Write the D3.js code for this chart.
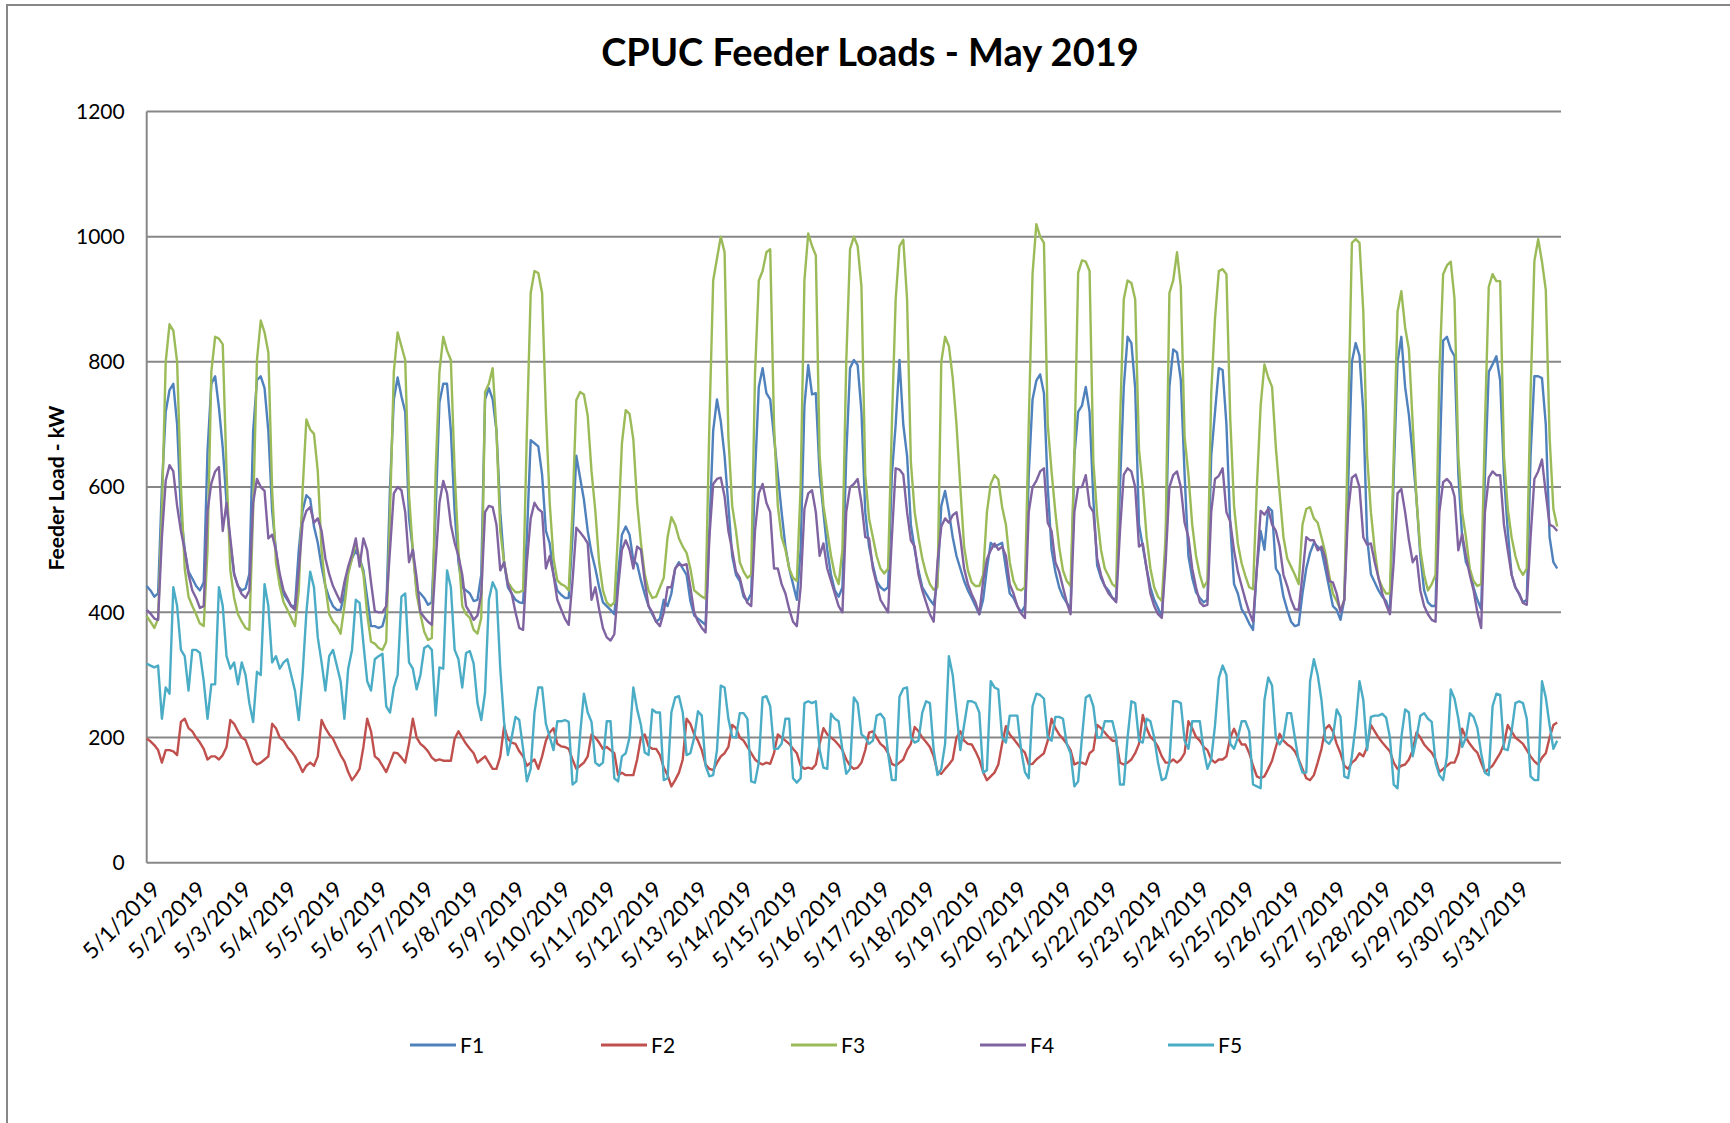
<!DOCTYPE html>
<html><head><meta charset="utf-8">
<script src="https://cdn.jsdelivr.net/npm/d3@7"></script>
<style>html,body{margin:0;padding:0;background:#fff;}svg{display:block;font-family:Lato,"Open Sans",sans-serif;}</style>
</head><body>
<svg id="chart" width="1730" height="1123"></svg>
<script>
// ---- data (2-hour samples, 12 per day, May 1..31 2019) ----
const days = d3.range(1, 32).map(d => `5/${d}/2019`);
const yTicks = [0, 200, 400, 600, 800, 1000, 1200];
const seriesNames = ["F1", "F2", "F3", "F4", "F5"];
const seriesColors = ["#4F81BD", "#C0504D", "#9BBB59", "#8064A2", "#4BACC6"];
const stepHours = 2;

const f1 = [
442,435,425,430,600,720,755,765,700,560,500,465,
454,442,435,448,657,765,777,727,663,575,511,461,
442,435,438,461,689,771,777,758,689,562,499,448,
429,420,410,410,499,562,587,581,537,511,473,442,
423,410,404,404,429,467,486,499,486,467,423,378,
378,375,378,400,600,740,775,745,720,550,500,435,
430,423,412,416,560,735,765,765,690,560,480,440,
435,430,418,420,460,740,758,740,690,560,480,440,
430,420,416,415,520,675,670,665,620,530,510,460,
435,428,423,423,520,650,615,580,530,495,470,440,
416,410,404,397,461,524,537,524,483,477,451,429,
410,397,385,390,420,410,430,470,480,470,460,418,
395,390,385,380,530,690,740,705,650,570,490,460,
450,425,418,430,620,760,790,750,740,680,620,560,
505,470,445,420,500,730,795,748,750,620,560,500,
460,435,425,440,650,790,803,795,720,560,505,475,
450,440,435,440,620,700,803,700,650,540,500,467,
440,430,420,412,450,570,594,560,520,490,470,450,
435,423,410,397,420,470,511,505,508,511,470,430,
423,410,400,410,620,740,770,780,750,600,500,465,
440,425,415,405,650,720,730,760,720,580,475,455,
442,435,423,420,600,760,840,830,758,540,505,470,
440,420,407,393,500,760,820,815,771,620,490,455,
432,423,416,420,650,720,790,787,700,540,445,430,
405,395,382,372,470,530,500,568,562,470,460,425,
404,385,378,380,430,470,495,511,505,499,470,440,
410,404,388,420,600,800,830,810,720,520,461,448,
435,425,418,400,620,800,840,760,715,650,580,490,
435,416,410,410,620,834,840,820,809,620,520,480,
467,440,420,405,620,784,796,809,770,620,530,460,
440,429,416,420,650,777,777,774,700,520,480,470];

const f2 = [
198,194,188,180,160,180,180,178,172,225,230,215,
210,200,192,182,165,170,170,165,172,185,228,222,
210,200,196,180,162,157,160,165,170,222,215,200,
195,185,178,170,158,145,155,160,155,170,228,215,
205,198,185,172,162,145,132,140,150,185,230,210,
170,165,155,145,160,176,175,168,160,190,230,200,
190,185,178,168,163,165,163,163,163,198,210,200,
190,182,175,160,165,170,160,150,150,170,218,198,
192,190,178,170,155,160,165,150,170,195,208,215,
190,186,185,182,165,150,155,160,170,205,200,192,
182,185,180,175,140,144,140,140,140,165,200,205,
186,182,182,172,152,140,122,132,144,165,230,222,
205,195,180,157,150,148,160,170,175,185,220,215,
200,195,185,175,165,160,157,160,158,175,205,200,
195,190,182,175,155,150,152,150,157,190,215,205,
200,195,188,180,165,155,150,152,160,180,208,210,
200,190,185,175,158,155,160,165,180,190,217,210,
200,193,185,170,145,142,150,157,165,200,210,195,
190,189,178,165,145,132,138,144,157,190,218,205,
198,190,182,176,157,158,165,170,175,195,230,215,
205,198,190,180,157,160,160,157,175,180,220,215,
208,201,195,195,160,157,160,165,175,190,236,215,
201,195,185,170,160,160,165,160,165,175,226,215,
201,195,185,180,165,160,165,165,170,200,214,200,
189,189,175,155,138,135,138,150,163,185,206,195,
189,185,178,165,150,135,132,140,160,182,214,220,
210,190,175,155,150,160,165,175,170,185,220,210,
200,192,185,178,160,150,155,157,165,180,208,200,
189,182,176,165,145,150,155,160,160,175,214,200,
190,182,176,160,145,150,155,165,175,190,220,210,
200,195,190,180,170,162,157,168,175,200,220,224];

const f3 = [
394,385,375,390,560,800,860,850,800,600,470,425,
410,397,382,378,500,784,840,837,828,625,467,423,
397,385,375,372,562,803,866,847,815,594,480,442,
416,404,391,378,435,594,708,692,685,625,499,442,
397,385,378,366,410,461,486,511,486,461,397,353,
350,343,340,353,560,784,847,825,803,587,499,429,
397,369,356,359,625,784,840,818,803,625,499,410,
397,391,372,366,391,752,765,790,689,530,480,448,
439,432,432,435,689,910,945,942,910,720,575,486,
451,445,442,435,562,739,752,748,714,625,562,480,
435,416,410,416,530,670,723,717,676,575,511,461,
435,423,425,440,455,520,552,540,518,505,495,470,
435,430,425,422,700,930,965,1000,975,680,570,530,
480,465,455,460,780,930,945,975,980,700,570,520,
500,470,455,450,600,930,1005,985,970,650,570,530,
490,460,445,500,800,980,1000,985,920,620,550,520,
490,470,462,470,700,900,985,995,900,640,560,520,
486,462,445,436,440,800,840,825,775,700,600,505,
467,448,442,442,460,560,605,619,612,568,540,480,
450,437,435,440,700,940,1020,1000,990,700,625,560,
505,467,450,442,650,942,962,960,945,640,555,500,
470,458,445,440,700,900,930,926,900,660,600,520,
470,440,425,418,520,910,930,975,920,680,620,540,
490,460,440,450,750,870,945,948,940,710,570,510,
478,458,440,437,600,730,796,775,760,663,590,520,
486,473,460,445,540,565,568,550,543,520,495,460,
430,418,404,420,700,990,996,990,880,650,560,500,
454,440,430,430,650,880,913,855,820,700,580,500,
460,435,445,460,780,940,954,960,900,650,560,520,
470,450,442,445,700,920,940,929,929,650,565,520,
490,470,460,470,750,961,996,960,915,680,565,537];

const f4 = [
404,398,390,388,520,610,635,625,570,530,499,461,
435,423,407,410,562,606,625,632,530,575,518,461,
442,429,423,435,575,613,600,594,518,524,499,461,
435,423,410,404,467,543,562,568,543,550,530,486,
461,442,429,416,448,473,493,518,473,518,499,448,
402,400,400,410,500,590,600,595,560,480,500,455,
400,392,385,380,480,575,610,590,540,511,490,460,
410,400,388,395,430,560,570,568,540,467,480,445,
430,400,375,372,480,550,575,565,560,470,490,460,
420,405,390,380,450,535,528,520,510,420,440,405,
375,360,355,365,440,500,515,500,470,505,500,450,
410,400,385,378,400,440,440,470,477,475,477,440,
400,385,375,368,520,605,613,615,585,530,499,465,
455,430,415,410,530,590,605,575,560,470,470,445,
430,405,385,378,440,565,590,595,560,490,510,470,
450,430,410,400,560,600,605,613,575,520,518,470,
445,420,410,400,520,630,628,620,560,515,505,460,
435,416,397,385,480,537,550,543,555,560,520,470,
445,429,416,397,450,485,499,510,500,505,490,445,
430,410,398,391,560,600,610,625,630,543,530,480,
465,440,416,397,560,600,600,619,570,560,486,460,
442,430,423,416,530,620,630,625,600,505,510,470,
430,410,397,391,480,600,619,625,600,543,520,470,
440,416,410,412,560,613,618,630,560,545,499,465,
442,420,400,385,470,562,556,565,540,530,505,460,
442,420,405,404,460,520,515,515,499,505,486,450,
448,430,400,420,560,615,620,600,520,508,510,480,
455,430,412,397,480,590,597,560,515,480,490,435,
410,397,388,385,560,608,613,606,585,499,525,490,
460,435,400,375,560,615,625,619,619,540,499,460,
440,430,415,412,520,613,625,644,590,540,537,530];

const f5 = [
318,315,312,315,230,280,270,440,410,340,330,275,
340,340,335,290,230,285,285,440,410,330,310,320,
285,320,300,255,225,305,300,445,410,320,330,310,
320,325,300,275,228,300,400,465,440,360,320,275,
330,340,315,290,230,310,340,420,415,350,290,275,
325,330,334,250,240,280,300,425,430,320,310,277,
300,343,347,340,235,312,310,467,440,340,325,280,
335,338,318,255,228,272,420,448,435,310,225,172,
200,233,228,182,130,150,240,280,280,222,201,180,
226,226,228,225,125,130,205,270,240,225,160,155,
160,226,226,135,130,170,175,200,280,245,220,176,
172,245,240,240,132,135,240,264,266,240,172,175,
200,242,235,155,138,140,180,283,280,230,201,200,
239,239,230,130,128,160,264,266,250,182,182,190,
230,230,135,128,135,255,258,255,258,180,152,150,
238,230,226,180,142,150,264,255,205,200,190,195,
235,238,230,175,132,132,265,278,280,200,192,195,
240,258,255,180,140,150,190,330,300,240,180,220,
258,258,255,240,144,148,290,280,277,200,192,235,
235,235,180,145,135,250,270,268,262,200,195,233,
233,230,190,175,122,130,200,264,268,250,200,200,
226,226,226,200,125,125,200,258,255,195,192,230,
226,200,160,132,135,160,258,258,255,195,182,226,
226,226,180,150,165,220,295,315,300,190,182,200,
226,226,210,125,122,119,260,296,283,200,189,200,
239,239,200,163,144,144,290,325,300,260,195,190,
200,245,233,138,135,170,220,290,260,180,233,235,
235,238,232,200,125,119,200,245,240,170,200,235,
239,230,225,160,140,132,170,277,262,230,185,200,
239,233,215,175,144,140,250,270,268,182,180,210,
255,258,255,230,138,132,132,290,264,220,182,195];

const seriesData = [f1, f2, f3, f4, f5];

// ---- layout ----
const svg = d3.select("#chart");
const W = 1730, H = 1123;
const plot = {left: 146.7, right: 1561, top: 111.4, bottom: 862.8};
const gridColor = "#878787";

const x = d3.scaleLinear().domain([0, days.length * 24]).range([plot.left, plot.right]);
const y = d3.scaleLinear().domain([0, 1200]).range([plot.bottom, plot.top]);

// outer chart border (left + top visible)
svg.append("path").attr("d", `M7,${H} L7,5 L${W},5`).attr("fill", "none")
  .attr("stroke", gridColor).attr("stroke-width", 2);

// title
svg.append("text").attr("x", 870).attr("y", 66).attr("text-anchor", "middle")
  .attr("font-size", 38).attr("font-weight", "bold").attr("fill", "#000")
  .text("CPUC Feeder Loads - May 2019");

// y axis tick labels
const yAxis = d3.axisLeft(y).tickValues(yTicks).tickFormat(d3.format("d")).tickSize(0).tickPadding(22);
const gy = svg.append("g").attr("transform", `translate(${plot.left},0)`).call(yAxis);
gy.select(".domain").remove();
gy.selectAll("text").attr("font-size", 21).attr("fill", "#000").attr("font-family", "Lato, sans-serif");

// gridlines
svg.append("g").selectAll("line").data(yTicks.filter(v => v > 0)).join("line")
  .attr("x1", plot.left).attr("x2", plot.right)
  .attr("y1", d => y(d)).attr("y2", d => y(d))
  .attr("stroke", gridColor).attr("stroke-width", 2);

// axes lines
svg.append("line").attr("x1", plot.left).attr("x2", plot.left).attr("y1", plot.top).attr("y2", plot.bottom)
  .attr("stroke", gridColor).attr("stroke-width", 2);
svg.append("line").attr("x1", plot.left).attr("x2", plot.right).attr("y1", plot.bottom).attr("y2", plot.bottom)
  .attr("stroke", gridColor).attr("stroke-width", 2);

// x tick labels (rotated)
svg.append("g").selectAll("text").data(days).join("text")
  .attr("transform", (d, i) => `translate(${x(i * 24) + 15},${plot.bottom + 28}) rotate(-45)`)
  .attr("text-anchor", "end").attr("font-size", 22.5).attr("fill", "#000")
  .text(d => d);

// y axis title
svg.append("text").attr("transform", "translate(64,488) rotate(-90)")
  .attr("text-anchor", "middle").attr("font-size", 21).attr("font-weight", "bold")
  .text("Feeder Load - kW");

// series lines
const line = d3.line().x((d, i) => x(i * stepHours)).y(d => y(d));
const gl = svg.append("g");
seriesData.forEach((s, k) => {
  gl.append("path").datum(s).attr("d", line).attr("fill", "none")
    .attr("stroke", seriesColors[k]).attr("stroke-width", 2.4).attr("stroke-linejoin", "round");
});

// legend
const legendX = [410, 601, 791, 980, 1168];
const lg = svg.append("g");
seriesNames.forEach((n, k) => {
  lg.append("line").attr("x1", legendX[k]).attr("x2", legendX[k] + 46)
    .attr("y1", 1045).attr("y2", 1045).attr("stroke", seriesColors[k]).attr("stroke-width", 3);
  lg.append("text").attr("x", legendX[k] + 50).attr("y", 1053).attr("font-size", 21).text(n);
});
</script>
</body></html>
